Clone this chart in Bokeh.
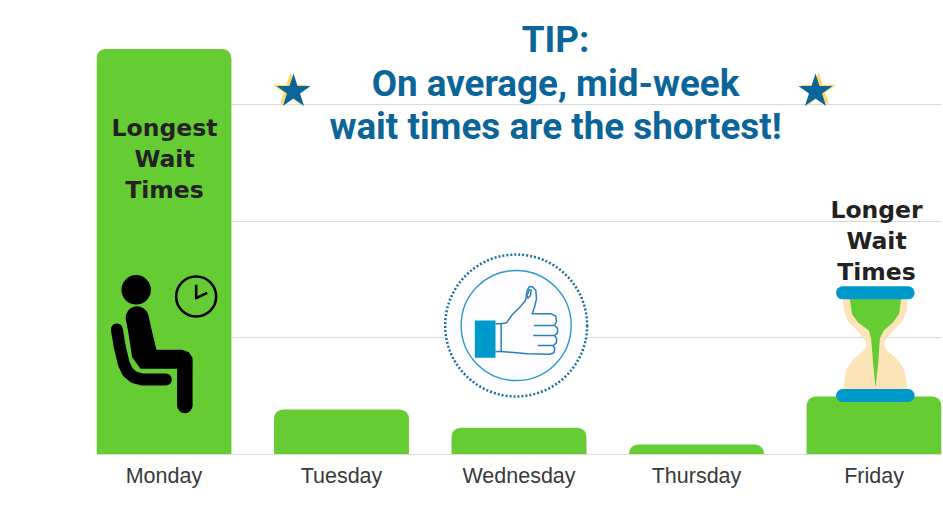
from bokeh.plotting import figure
from bokeh.models import Range1d, FixedTicker
from bokeh.core.properties import value
from bokeh.embed import file_html
from bokeh.resources import INLINE

days = ["Monday", "Tuesday", "Wednesday", "Thursday", "Friday"]
wait = [34.75, 3.86, 2.3, 0.86, 4.97]
grid_values = [10, 20, 30]

GREEN = "#66cc33"
TITLE = "#0b6598"
CYAN = "#0099cc"
DARK = "#222222"

p = figure(width=943, height=528, output_backend="svg", toolbar_location=None,
           x_range=Range1d(-0.38, 4.38), y_range=Range1d(0, 38.9),
           min_border_left=96, min_border_right=2, min_border_top=0, min_border_bottom=74)
p.outline_line_color = None
p.yaxis.visible = False
p.xgrid.visible = False
p.ygrid.ticker = FixedTicker(ticks=grid_values)
p.ygrid.grid_line_color = "#d9d9d9"
p.ygrid.grid_line_width = 1
ax = p.xaxis[0]
ax.ticker = FixedTicker(ticks=list(range(len(days))))
ax.major_label_overrides = {i: d for i, d in enumerate(days)}
ax.major_tick_line_color = None
ax.minor_tick_line_color = None
ax.major_tick_out = 0
ax.major_tick_in = 0
ax.axis_line_color = "#dddddd"
ax.major_label_text_font = "Liberation Sans"
ax.major_label_text_font_size = "21.5px"
ax.major_label_text_color = "#3a3a3a"
ax.major_label_standoff = 9

p.vbar(x=list(range(len(days))), top=wait, bottom=0, width=0.76, fill_color=GREEN,
       line_color=None, border_radius=(9, 9, 0, 0))

# Decoration layer: coordinates are pixels of the picture
p.extra_x_ranges["px"] = Range1d(96, 941)
p.extra_y_ranges["px"] = Range1d(454, 0)
P = dict(x_range_name="px", y_range_name="px")
def zx(v, o): return [a / 3 + o for a in v]

def txt(x, y, s, size, color, font, style="bold"):
    p.text([x], [y], text=[s], text_font=value(font), text_font_size=value(size), text_font_style=style,
           text_color=color, text_align="center", text_baseline="middle", **P)

# Title
for y, s in zip([39, 83, 126], ["TIP:", "On average, mid-week", "wait times are the shortest!"]):
    txt(555, y, s, "36.8px", TITLE, "Roboto")

# Stars
for cx, dx in [(293, -3), (815, 3)]:
    p.scatter([cx + dx], [90], marker="star", size=37, fill_color="#ffd966", line_color=None, **P)
    p.scatter([cx], [91], marker="star", size=36, fill_color=TITLE, line_color=None, **P)

# Side labels
for y, s in zip([127, 158, 189], ["Longest", "Wait", "Times"]):
    txt(164, y, s, "23.5px", DARK, "DejaVu Sans")
for y, s in zip([209, 240, 271], ["Longer", "Wait", "Times"]):
    txt(876, y, s, "23.5px", DARK, "DejaVu Sans")

# Seated person
X, Y = 90, 260
p.scatter([X + 137 / 3], [Y + 88 / 3], marker="circle", size=29.5, fill_color="black", line_color=None, **P)
p.line(zx([140, 165], X), zx([172, 285], Y), line_width=23, line_color="black", line_cap="round", **P)
p.patch(zx([108, 175, 198, 275, 295, 305, 305, 150, 125], X), zx([180, 180, 268, 268, 275, 290, 325, 325, 290], Y),
        fill_color="black", line_color=None, **P)
p.line(zx([283, 283], X), zx([300, 435], Y), line_width=15.5, line_color="black", line_cap="round", **P)
p.line(zx([79, 88, 100, 112, 130, 155, 226], X), zx([207, 260, 310, 335, 350, 357, 357], Y),
       line_width=12, line_color="black", line_cap="round", line_join="round", **P)
# Clock
p.scatter([X + 317 / 3], [Y + 108 / 3], marker="circle", size=40, fill_color=None, line_color="black", line_width=2.6, **P)
p.line(zx([317, 317, 350], X), zx([73, 113, 97], Y), line_width=2.6, line_color="black", line_join="round", **P)

# Thumbs-up badge
X, Y = 430, 245
cxb, cyb = X + 257 / 3, Y + 240 / 3
p.scatter([cxb], [cyb], marker="circle", size=142, fill_color="#fdfdff", line_color="#1d6ea3",
          line_width=2.5, line_dash="2 2", **P)
p.scatter([cxb], [cyb], marker="circle", size=110, fill_color=None, line_color="#2f97cf", line_width=1.4, **P)
p.patch(zx([133, 195, 195, 133], X), zx([225, 225, 337, 337], Y), fill_color=CYAN, line_color=None, **P)
hand = "#2b7fb8"
hand_lines = [
    ([195, 212, 212, 195], [235, 235, 318, 318]),
    ([212, 228, 245, 268, 285, 290, 296, 306, 316, 318, 312, 305, 362, 376, 378, 372],
     [235, 232, 208, 185, 165, 135, 124, 124, 135, 160, 185, 205, 205, 212, 228, 240]),
    ([310, 372, 381, 381, 372, 308], [240, 240, 248, 262, 270, 270]),
    ([372, 378, 378, 368, 322], [270, 278, 292, 300, 300]),
    ([368, 373, 370, 358, 290, 212], [300, 310, 322, 326, 325, 318]),
    ([290, 296, 302, 300, 292, 290], [150, 133, 135, 150, 158, 150]),
]
for hx, hy in hand_lines:
    p.line(zx(hx, X), zx(hy, Y), line_width=1.5, line_color=hand, line_join="round", **P)

# Hourglass
X, Y = 800, 190
left_x = [127, 130, 145, 175, 195, 198, 190, 160, 138, 127]
glass_y = [320, 360, 395, 425, 450, 463, 480, 505, 535, 600]
p.patch(zx(left_x + [449 - v for v in reversed(left_x)], X), zx(glass_y + glass_y[::-1], Y),
        fill_color="#fde3b8", line_color=None, **P)
p.patch(zx([148, 302, 296, 278, 250, 238, 233, 226, 224, 218, 212, 205, 172, 154], X),
        zx([325, 325, 370, 395, 420, 445, 520, 585, 585, 520, 445, 420, 395, 370], Y),
        fill_color=GREEN, line_color=None, **P)
for yy in [307, 615]:
    p.line(zx([126, 323], X), zx([yy, yy], Y), line_width=13, line_color=CYAN, line_cap="round", **P)

open("out.html", "w").write(file_html(p, INLINE))
